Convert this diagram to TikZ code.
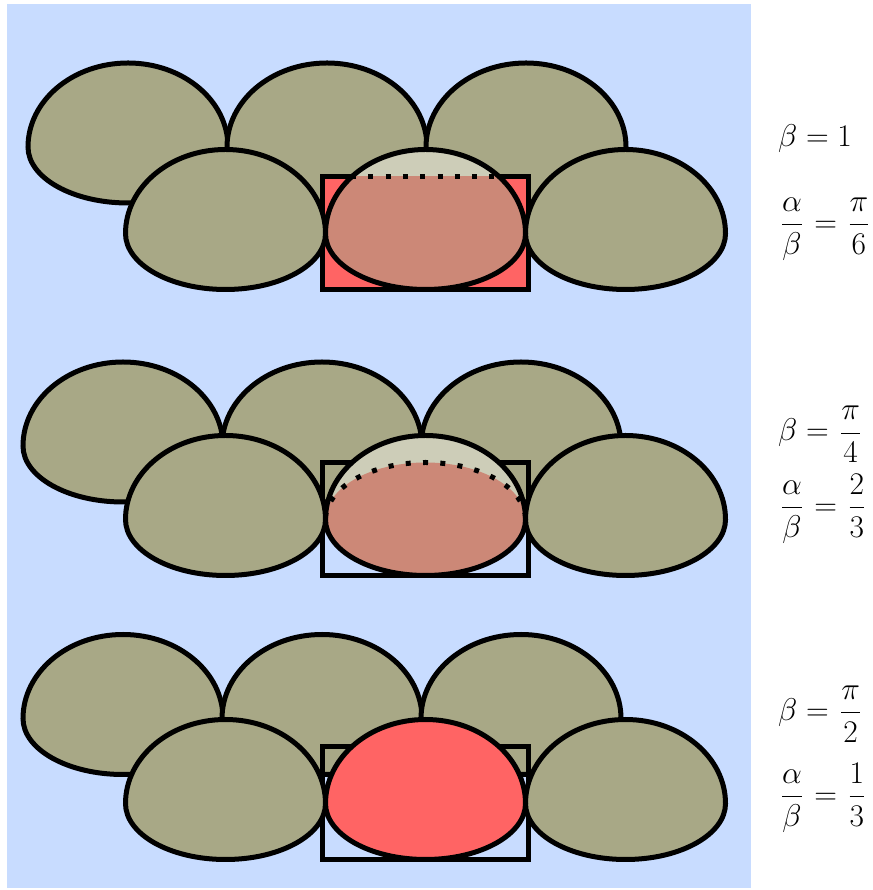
\RequirePackage{fix-cm}
\documentclass[tikz,border=0pt]{standalone}
\usepackage{amsmath}
\definecolor{bgblue}{RGB}{200,220,255}
\definecolor{olive}{RGB}{168,168,134}
\definecolor{redfill}{RGB}{255,100,100}
\definecolor{salmon}{RGB}{204,136,119}
\definecolor{lightcap}{RGB}{205,205,184}
\newcommand\blobp[2]{(#1-100,#2) arc[start angle=180,end angle=0,x radius=100,y radius=84] arc[start angle=0,end angle=-180,x radius=100,y radius=56] -- cycle}
\newcommand\lblfont{\fontsize{31.5}{38}\selectfont\nulldelimiterspace=3.8pt\relax}
\tikzset{
  outl/.style={draw=black,line width=5pt},
  blobfill/.style={fill=olive},
  dotline/.style={draw=black,line width=5pt,dash pattern=on 5pt off 12.3pt},
  lbl/.style={inner sep=0pt,anchor=base west,font=\lblfont}
}
\begin{document}
\begin{tikzpicture}[x=1pt,y=1pt]
\useasboundingbox (0,0) rectangle (872,890);
\fill[bgblue] (7,2) rectangle (751,886);

% ---------- top panel ----------
\foreach \cx in {128,327,526} {\path[blobfill,outl] \blobp{\cx}{743};}
\path[fill=redfill,outl] (322.5,600.5) rectangle (528,713.5);
\foreach \cx in {225.5,625.5} {\path[blobfill,outl] \blobp{\cx}{656.5};}
\fill[lightcap] \blobp{425.5}{656.5};
\begin{scope}
  \clip (300,590) rectangle (560,713.5);
  \fill[salmon] \blobp{425.5}{656.5};
\end{scope}
\path[dotline] (351,713.5) -- (500,713.5);
\path[outl] \blobp{425.5}{656.5};

% ---------- middle panel ----------
\foreach \cx in {123,322,521} {\path[blobfill,outl] \blobp{\cx}{444};}
\path[outl] (322.5,314.5) rectangle (528,427.5);
\foreach \cx in {225.5,625.5} {\path[blobfill,outl] \blobp{\cx}{370.5};}
\fill[lightcap] \blobp{425.5}{370.5};
\fill[salmon] (325.5,370.5) arc[start angle=180,end angle=0,x radius=100,y radius=57]
   arc[start angle=0,end angle=-180,x radius=100,y radius=56] -- cycle;
\path[dotline,dash phase=15.25pt] (325.5,370.5) arc[start angle=180,end angle=0,x radius=100,y radius=57];
\path[outl] \blobp{425.5}{370.5};

% ---------- bottom panel ----------
\foreach \cx in {123,322,521} {\path[blobfill,outl] \blobp{\cx}{171.5};}
\path[outl] (322.5,30.5) rectangle (528,143.5);
\foreach \cx in {225.5,625.5} {\path[blobfill,outl] \blobp{\cx}{86.5};}
\path[fill=redfill,outl] \blobp{425.5}{86.5};

% ---------- labels ----------
\node[lbl] (b1) at (778,743) {$\beta=1$};
\node[lbl] (r1) at (778,657.5) {$\dfrac{\alpha}{\beta}=\dfrac{\pi}{6}$};
\node[lbl] (b2) at (778,449) {$\beta=\dfrac{\pi}{4}$};
\node[lbl] (r2) at (778,374.5) {$\dfrac{\alpha}{\beta}=\dfrac{2}{3}$};
\node[lbl] (b3) at (778,169.5) {$\beta=\dfrac{\pi}{2}$};
\node[lbl] (r3) at (778,85.5) {$\dfrac{\alpha}{\beta}=\dfrac{1}{3}$};
\end{tikzpicture}
\end{document}
